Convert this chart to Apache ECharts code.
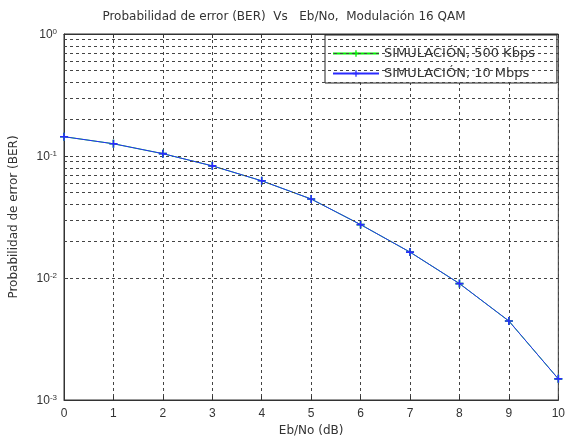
<!DOCTYPE html>
<html>
<head>
<meta charset="utf-8">
<script src="https://cdn.jsdelivr.net/npm/echarts@6/dist/echarts.min.js"></script>
<style>
  html, body { margin: 0; padding: 0; background: #fff; }
  #chart { width: 568px; height: 442px; }
</style>
</head>
<body>
<div id="chart"></div>
<script>
// Eb/No values in dB
const ebno = [0, 1, 2, 3, 4, 5, 6, 7, 8, 9, 10];
// Simulated bit error rate, 16-QAM
const berSim500k = [0.144, 0.126, 0.1045, 0.083, 0.0626, 0.0444, 0.0274, 0.0163, 0.0090, 0.00444, 0.00149];
const berSim10M  = [0.144, 0.126, 0.1045, 0.083, 0.0626, 0.0444, 0.0274, 0.0163, 0.0090, 0.00444, 0.00149];
const seriesNames = ['SIMULACIÓN, 500 Kbps', 'SIMULACIÓN, 10 Mbps'];
// decades of the log axis and the in-between gridline multipliers
const decades = [0.001, 0.01, 0.1];
const minorSteps = [2, 3, 4, 5, 6, 7, 8, 9];

const minorLines = [];
decades.forEach(d => minorSteps.forEach(m => minorLines.push({ yAxis: +(d * m).toPrecision(3) })));

const gridDash = { color: '#444', width: 1, type: [3, 3] };
const star = 'path://M4,0L6,0L6,4L10,4L10,6L6,6L6,10L4,10L4,6L0,6L0,4L4,4Z';
const font = 'DejaVu Sans, Liberation Sans, sans-serif';
const tickFont = 'Liberation Sans, Arial, sans-serif';

const chart = echarts.init(document.getElementById('chart'));
chart.setOption({
  animation: false,
  backgroundColor: '#fff',
  textStyle: { fontFamily: font },
  title: {
    text: 'Probabilidad de error (BER)  Vs   Eb/No,  Modulación 16 QAM',
    left: 'center',
    top: 6,
    textStyle: { fontSize: 12, fontWeight: 'normal', color: '#333', fontFamily: font }
  },
  grid: {
    left: 63, right: 7, top: 34, bottom: 40,
    show: true, borderColor: '#333', borderWidth: 1, backgroundColor: '#fff'
  },
  legend: {
    data: seriesNames,
    orient: 'vertical',
    left: 325, top: 35,
    itemWidth: 46, itemHeight: 8, itemGap: 7,
    padding: [12, 22, 3, 7],
    borderColor: '#222', borderWidth: 1,
    backgroundColor: '#fff',
    textStyle: { fontSize: 13, color: '#333', fontFamily: font }
  },
  xAxis: [{
    type: 'value', min: 0, max: 10, interval: 1,
    name: 'Eb/No (dB)', nameLocation: 'middle', nameGap: 25,
    nameTextStyle: { fontSize: 12, color: '#333', fontFamily: font },
    axisLine: { lineStyle: { color: '#333' } },
    axisTick: { inside: true, length: 4, lineStyle: { color: '#333' } },
    axisLabel: { fontSize: 12, color: '#333', margin: 8, fontFamily: tickFont },
    splitLine: { show: true, lineStyle: gridDash }
  }, {
    type: 'value', min: 0, max: 10, interval: 1, position: 'top',
    axisLine: { show: true, lineStyle: { color: '#333' } },
    axisTick: { inside: true, length: 4, lineStyle: { color: '#333' } },
    axisLabel: { show: false }, splitLine: { show: false }
  }],
  yAxis: [{
    type: 'log', logBase: 10, min: 0.001, max: 1,
    name: 'Probabilidad de error (BER)', nameLocation: 'middle', nameGap: 44,
    nameTextStyle: { fontSize: 12, color: '#333', fontFamily: font },
    axisLine: { show: true, lineStyle: { color: '#333' } },
    axisTick: { inside: true, length: 4, lineStyle: { color: '#333' } },
    axisLabel: {
      margin: 7, color: '#333',
      formatter: v => '{b|10}{s|' + Math.round(Math.log10(v)) + '}',
      rich: {
        b: { fontSize: 12, lineHeight: 13, verticalAlign: 'bottom', color: '#333', fontFamily: tickFont },
        s: { fontSize: 8, lineHeight: 13, verticalAlign: 'top', color: '#333', fontFamily: tickFont }
      }
    },
    splitLine: { show: true, lineStyle: gridDash }
  }],
  series: [{
    name: seriesNames[0],
    type: 'line',
    data: ebno.map((x, i) => [x, berSim500k[i]]),
    color: '#00ee00',
    lineStyle: { width: 1 },
    symbol: star, symbolSize: 8, showSymbol: true,
    markLine: {
      silent: true, symbol: 'none', label: { show: false },
      lineStyle: gridDash, animation: false,
      data: minorLines
    },
    z: 2
  }, {
    name: seriesNames[1],
    type: 'line',
    data: ebno.map((x, i) => [x, berSim10M[i]]),
    color: '#2a2aff',
    lineStyle: { width: 1 },
    symbol: star, symbolSize: 8, showSymbol: true,
    z: 3
  }]
});
</script>
</body>
</html>
